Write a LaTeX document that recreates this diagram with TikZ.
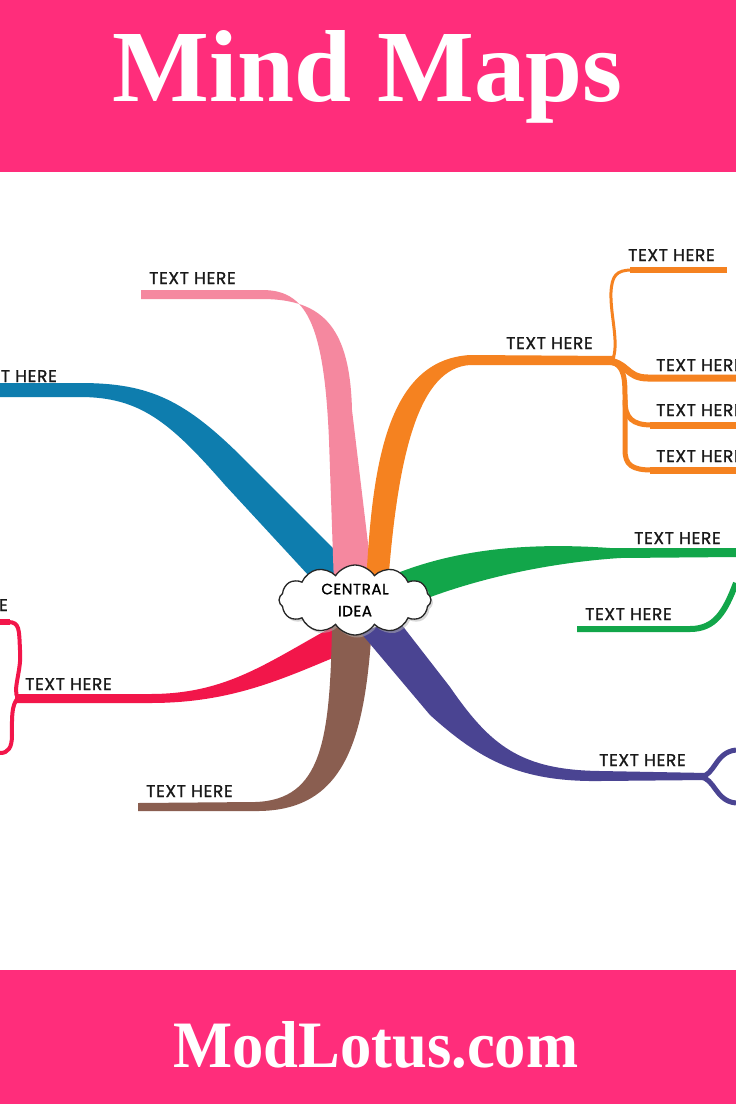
\documentclass[tikz,border=0pt]{standalone}
\usepackage{fontspec}
\usepackage{graphicx}
\setmainfont{Liberation Serif}
\newfontfamily\lblfont{Poppins}[FakeBold=1.2, LetterSpace=4]
\usetikzlibrary{shapes.symbols,shadows}
\definecolor{band}{HTML}{FF2D7B}
\definecolor{cpink}{HTML}{F5889F}
\definecolor{cblue}{HTML}{0E7DAE}
\definecolor{corange}{HTML}{F58220}
\definecolor{cgreen}{HTML}{12A64A}
\definecolor{cpurple}{HTML}{4A4492}
\definecolor{cbrown}{HTML}{8A5E50}
\definecolor{cred}{HTML}{F2164A}
\begin{document}
\begin{tikzpicture}[x=1pt,y=-1pt,
  lbl/.style={font=\lblfont\fontsize{17}{19}\selectfont, text=black!90, inner sep=0pt},
  twig/.style={line width=#1, fill=none}]
\useasboundingbox (0,0) rectangle (736,1104);
\clip (0,0) rectangle (736,1104);
\fill[white] (0,0) rectangle (736,1104);
\fill[band] (0,0) rectangle (736,172);
\fill[band] (0,970) rectangle (736,1104);
\node[anchor=base west, inner sep=0pt, text=white] (title) at (112,101) {\resizebox{510pt}{71pt}{\bfseries Mind Maps}};
\node[anchor=base west, inner sep=0pt, text=white] (site) at (173,1067) {\resizebox{405pt}{46pt}{\bfseries ModLotus.com}};

% blue branch
\fill[cblue] (0,383) -- (80,383) .. controls (150,383) and (185,400) .. (245,460) -- (345,560) -- (322,590) -- (225,485) .. controls (170,422) and (140,397) .. (80,397) -- (0,397) -- cycle;
% pink branch
\fill[cpink] (334,585) -- (329,440) .. controls (324,320) and (305,290) .. (262,290) -- (141,290) -- (141,299) -- (262,299) .. controls (325,299) and (350,330) .. (352,410) -- (373,585) -- cycle;
% orange branch
\fill[corange] (366,585) .. controls (372,470) and (385,360) .. (470,355) -- (615,356) -- (615,365) -- (470,365) .. controls (420,368) and (398,450) .. (388,585) -- cycle;
\coordinate (oj) at (612,361);
\draw[corange, twig=3] (oj) .. controls (620,345) and (610,315) .. (611,292) .. controls (612,276) and (616,270) .. (632,270);
\draw[corange, twig=6] (630,270) -- (727,270);
\draw[corange, twig=7] (605,361) .. controls (628,361) and (625,378) .. (648,378) -- (736,378);
\draw[corange, twig=5] (605,361) .. controls (622,362) and (625,372) .. (625,395) -- (625,450) .. controls (625,465) and (632,470) .. (652,470);
\draw[corange, twig=7] (650,470) -- (736,470);
\draw[corange, twig=5] (625,400) .. controls (625,418) and (632,425) .. (652,425);
\draw[corange, twig=7] (650,425) -- (736,425);
% green branch
\fill[cgreen] (395,574) .. controls (455,550) and (525,542) .. (610,548) -- (736,548) -- (736,557) -- (620,558) .. controls (545,563) and (470,580) .. (410,605) -- cycle;
\draw[cgreen, twig=6] (736,583) .. controls (725,612) and (715,629) .. (690,629) -- (577,629);
% red branch
\fill[cred] (15,694) -- (150,694) .. controls (230,694) and (270,660) .. (345,620) -- (340,655) .. controls (280,680) and (230,703) .. (150,703) -- (15,703) -- cycle;
\draw[cred, twig=4] (18,698) .. controls (12,690) and (22,670) .. (20,650) .. controls (19,630) and (20,622) .. (8,622);
\draw[cred, twig=6] (10,622) -- (0,622);
\draw[cred, twig=4] (18,698) .. controls (11,705) and (12,720) .. (12,735) .. controls (12,748) and (8,753) .. (0,753);
% brown branch
\fill[cbrown] (332,625) .. controls (330,740) and (322,800) .. (255,802) -- (138,803) -- (138,811) -- (255,811) .. controls (345,812) and (365,740) .. (372,625) -- cycle;
% purple branch
\fill[cpurple] (398,620) -- (450,687) .. controls (490,745) and (520,770) .. (600,771) -- (708,773) -- (708,780) -- (600,781) .. controls (520,782) and (480,760) .. (430,715) -- (360,632) -- cycle;
\draw[cpurple, twig=5] (700,777) .. controls (715,776) and (715,752) .. (736,750);
\draw[cpurple, twig=5] (700,777) .. controls (715,778) and (715,801) .. (736,803);

% central idea
\node[cloud, cloud puffs=12, cloud puff arc=115, aspect=2.2, draw=black!85, line width=1.3pt, fill=white,
  minimum width=152pt, minimum height=70pt, align=center, inner sep=0pt,
  font=\lblfont\fontsize{15}{22}\selectfont,
  drop shadow={shadow xshift=2pt, shadow yshift=-2.5pt, fill=black!30}] (center) at (355,600) {CENTRAL\\IDEA};

% labels
\node[lbl, anchor=base west] (l1) at (149,284) {TEXT HERE};
\node[lbl, anchor=base east] (l2) at (57,382) {TEXT HERE};
\node[lbl, anchor=base west] (l3) at (506,349) {TEXT HERE};
\node[lbl, anchor=base west] (l4) at (628,261) {TEXT HERE};
\node[lbl, anchor=base west] (l5) at (656,371) {TEXT HERE};
\node[lbl, anchor=base west] (l6) at (656,416) {TEXT HERE};
\node[lbl, anchor=base west] (l7) at (656,462) {TEXT HERE};
\node[lbl, anchor=base west] (l8) at (634,544) {TEXT HERE};
\node[lbl, anchor=base west] (l9) at (585,620) {TEXT HERE};
\node[lbl, anchor=base west] (l10) at (599,766) {TEXT HERE};
\node[lbl, anchor=base west] (l11) at (146,797) {TEXT HERE};
\node[lbl, anchor=base west] (l12) at (25,690) {TEXT HERE};
\node[lbl, anchor=base east] (l13) at (8,611) {TEXT HERE};
\end{tikzpicture}
\end{document}
